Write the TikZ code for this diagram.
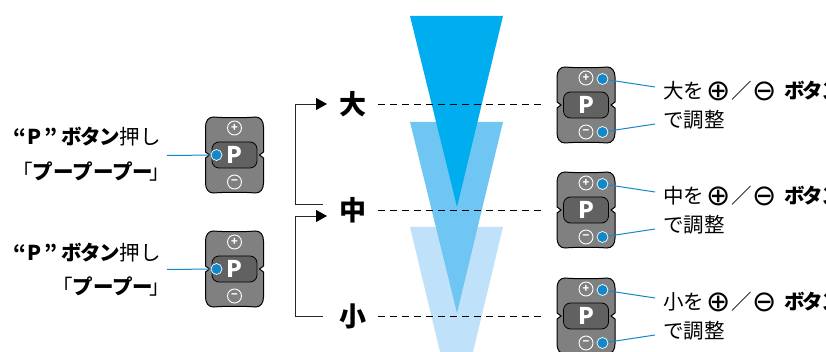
\documentclass[tikz,border=0pt]{standalone}
\usepackage{fontspec}
\setmainfont{Noto Sans CJK JP}
\newfontfamily\symfont{DejaVu Sans}
\usetikzlibrary{arrows.meta}
\definecolor{darkblue}{HTML}{00AEEF}
\definecolor{midblue}{HTML}{70C6F2}
\definecolor{paleblue}{HTML}{BFE1F9}
\definecolor{leadblue}{HTML}{1388C8}
\newcommand{\bigsym}[1]{\raisebox{-2.5pt}{\symfont\fontsize{29}{21}\selectfont #1}}
\newcommand{\btnword}{{\bfseries\addfontfeature{LetterSpace=-9}ボタン}}
\tikzset{
  sizelabel/.style = {font=\fontsize{27}{27}\selectfont\bfseries, inner sep=0pt},
  caption/.style   = {font=\fontsize{20.5}{21}\selectfont, inner sep=0pt},
  bluedot/.style   = {circle, fill=leadblue, draw=white, line width=.7pt,
                      minimum size=11pt, inner sep=0pt},
  iconnode/.style  = {circle, draw=white, line width=.9pt, text=white,
                      minimum size=14pt, inner sep=0pt,
                      font=\fontsize{11}{11}\selectfont\bfseries},
  lead/.style      = {draw=leadblue, line width=1pt},
  level/.style     = {black, dash pattern=on 7pt off 5pt, line width=.8pt},
  bracket/.style   = {draw=black!85, line width=.9pt},
  remote/.pic = {
    \draw[black, line width=1pt, fill=black!50]
      (-21,-38) .. controls (-10,-37) and (10,-37) .. (21,-38)
      .. controls (26,-38) and (29,-34) .. (29,-28)
      -- (29,-3) -- (25,0) -- (29,3) -- (29,28)
      .. controls (29,34) and (26,38) .. (21,38)
      .. controls (10,37) and (-10,37) .. (-21,38)
      .. controls (-26,38) and (-29,34) .. (-29,28)
      -- (-29,3) -- (-25,0) -- (-29,-3) -- (-29,-28)
      .. controls (-29,-34) and (-26,-38) .. (-21,-38) -- cycle;
    \node[draw=black, line width=.8pt, fill=black!62, rounded corners=7pt,
          minimum width=45pt, minimum height=26pt, inner sep=0pt,
          text=white, font=\fontsize{23}{23}\selectfont\bfseries] (-btn) at (0,0) {P};
    \node[iconnode] (-plus) at (0,-27) {+};
    \node[iconnode] (-minus) at (0,27) {−};
  }
}

\begin{document}
\begin{tikzpicture}[x=1pt, y=-1pt]
  \useasboundingbox (0,0) rectangle (826,352);
  \clip (0,0) rectangle (826,352);

  % wedges
  \fill[paleblue] (410,227) -- (503,227) -- (473,352) -- (440,352) -- cycle;
  \fill[midblue] (410,122) -- (503,122) -- (457,313) -- cycle;
  \fill[darkblue] (410,16) -- (503,16) -- (457,207) -- cycle;

  % size labels
  \node[sizelabel] (big) at (353,104) {大};
  \node[sizelabel] (mid) at (353,210) {中};
  \node[sizelabel] (small) at (353,316) {小};

  \coordinate (bigend) at (541,104);
  \coordinate (midend) at (541,210);
  \coordinate (smallend) at (541,316);
  \draw[level] (378,104) -- (bigend);
  \draw[level] (378,210) -- (midend);
  \draw[level] (378,316) -- (smallend);

  % brackets
  \coordinate (midout) at (323,204);
  \coordinate (bigin) at (327,104);
  \coordinate (smallout) at (323,316);
  \coordinate (midin) at (327,216);
  \draw[bracket, -{Triangle[length=11pt,width=12pt,black]}] (midout) -- (295,204) -- (295,104) -- (bigin);
  \draw[bracket, -{Triangle[length=11pt,width=12pt,black]}] (smallout) -- (295,316) -- (295,216) -- (midin);

  % left side
  \pic (la) at (234.5,155) {remote};
  \pic (lb) at (234.5,269) {remote};
  \node[bluedot] (dota) at (216.5,155) {};
  \node[bluedot] (dotb) at (216.5,269) {};
  \coordinate (starta) at (167,155.5);
  \coordinate (startb) at (167,269.5);
  \draw[lead] (starta) -- (dota);
  \draw[lead] (startb) -- (dotb);
  \node[caption, anchor=east] (capa) at (161,137) {\textbf{“\hspace{2pt}P\hspace{2pt}”\hspace{5pt}}\btnword 押し};
  \node[caption, anchor=east] (capb) at (170,172) {「\textbf{プープープー}\hspace{-4pt}」};
  \node[caption, anchor=east] (capc) at (161,253) {\textbf{“\hspace{2pt}P\hspace{2pt}”\hspace{5pt}}\btnword 押し};
  \node[caption, anchor=east] (capd) at (170,287) {「\textbf{プープー}\hspace{-4pt}」};

  % right side
  \foreach \n/\y/\t in {1/105/大, 2/210/中, 3/316/小} {
    \pic (r\n) at (586,\y) {remote};
    \node[bluedot] (plus\n) at (602.5,\y-26) {};
    \node[bluedot] (minus\n) at (602.5,\y+27) {};
    \coordinate (lineup\n) at (655,\y-18);
    \coordinate (linedn\n) at (655,\y+19);
    \draw[lead] (lineup\n) -- (plus\n);
    \draw[lead] (linedn\n) -- (minus\n);
    \node[caption, anchor=west] (text\n) at (663,\y-14) {\t を\hspace{2pt}\bigsym{⊕}\hspace{1pt}／\bigsym{⊖}\hspace{8pt}\btnword};
    \node[caption, anchor=west] (adj\n) at (663,\y+15) {で調整};
  }
\end{tikzpicture}
\end{document}
